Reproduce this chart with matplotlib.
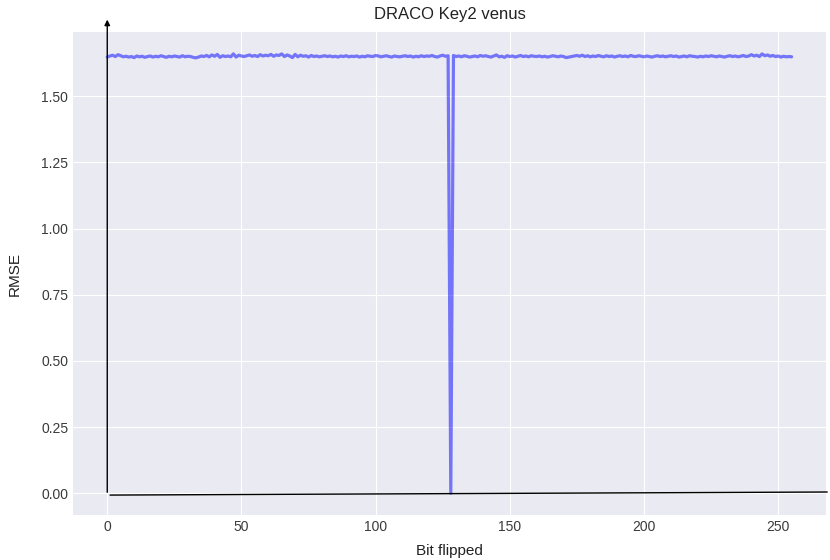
import matplotlib
matplotlib.use("Agg")
import matplotlib.pyplot as plt

# RMSE after flipping each bit of the key (bit 128 gives an exact decode)
rmse = [
    1.648, 1.652, 1.655, 1.650, 1.657, 1.653, 1.649, 1.651, 1.648, 1.650, 1.646, 1.652, 1.649, 1.651, 1.647, 1.650,
    1.652, 1.648, 1.651, 1.649, 1.653, 1.650, 1.647, 1.651, 1.649, 1.652, 1.650, 1.648, 1.653, 1.649, 1.651, 1.650,
    1.647, 1.645, 1.648, 1.652, 1.650, 1.654, 1.649, 1.656, 1.651, 1.658, 1.647, 1.653, 1.650, 1.652, 1.649, 1.660,
    1.648, 1.655, 1.652, 1.650, 1.653, 1.656, 1.651, 1.654, 1.650, 1.657, 1.652, 1.655, 1.653, 1.658, 1.651, 1.656,
    1.654, 1.660, 1.650, 1.656, 1.652, 1.646, 1.658, 1.649, 1.655, 1.651, 1.653, 1.648, 1.654, 1.650, 1.652, 1.649,
    1.651, 1.653, 1.650, 1.652, 1.649, 1.651, 1.648, 1.652, 1.650, 1.653, 1.649, 1.651, 1.650, 1.652, 1.648, 1.651,
    1.649, 1.653, 1.651, 1.650, 1.654, 1.652, 1.649, 1.651, 1.653, 1.650, 1.648, 1.652, 1.650, 1.649, 1.651, 1.653,
    1.650, 1.652, 1.648, 1.651, 1.649, 1.653, 1.650, 1.652, 1.651, 1.654, 1.650, 1.648, 1.652, 1.655, 1.651, 1.653,
    0.000, 1.654, 1.650, 1.652, 1.649, 1.653, 1.651, 1.648, 1.650, 1.652, 1.649, 1.654, 1.651, 1.653, 1.650, 1.648,
    1.652, 1.656, 1.649, 1.651, 1.647, 1.653, 1.650, 1.652, 1.648, 1.651, 1.654, 1.650, 1.652, 1.649, 1.653, 1.651,
    1.650, 1.652, 1.649, 1.651, 1.648, 1.650, 1.653, 1.651, 1.649, 1.652, 1.650, 1.646, 1.648, 1.650, 1.652, 1.654,
    1.651, 1.655, 1.650, 1.653, 1.649, 1.652, 1.650, 1.654, 1.651, 1.649, 1.653, 1.650, 1.652, 1.648, 1.651, 1.653,
    1.650, 1.652, 1.649, 1.654, 1.651, 1.650, 1.653, 1.651, 1.649, 1.652, 1.650, 1.648, 1.651, 1.653, 1.650, 1.652,
    1.649, 1.651, 1.653, 1.650, 1.652, 1.648, 1.650, 1.652, 1.649, 1.653, 1.651, 1.650, 1.648, 1.651, 1.649, 1.652,
    1.650, 1.653, 1.651, 1.649, 1.652, 1.650, 1.648, 1.651, 1.653, 1.650, 1.652, 1.649, 1.651, 1.654, 1.650, 1.652,
    1.657, 1.652, 1.655, 1.650, 1.660, 1.653, 1.656, 1.651, 1.654, 1.650, 1.652, 1.648, 1.651, 1.649, 1.650, 1.649,
]
bits = list(range(len(rmse)))
xticks = [0, 50, 100, 150, 200, 250]

plt.style.use("seaborn-v0_8-darkgrid")
plt.rcParams["font.family"] = ["Liberation Sans", "DejaVu Sans"]

fig, ax = plt.subplots(figsize=(8.3, 5.6), dpi=100)
fig.subplots_adjust(left=0.088, right=0.995, top=0.943, bottom=0.080)

ax.plot(bits, rmse, color="blue", alpha=0.5, linewidth=2.3)
ax.set_xticks(xticks)
ax.tick_params(labelsize=10, colors="#3a3a3a")
ax.set_title("DRACO Key2 venus", fontsize=12, color="#222222", pad=9)
ax.set_xlabel("Bit flipped", fontsize=11, color="#222222", labelpad=7)
ax.set_ylabel("RMSE", fontsize=11, color="#222222", labelpad=14)

# hand drawn axes through the origin
ax.annotate("", xy=(0, 1.80), xytext=(0, -0.007), xycoords="data",
            arrowprops=dict(arrowstyle="-|>", color="black", lw=1, mutation_scale=8),
            annotation_clip=False)
ax.annotate("", xy=(1.0, 1 - 492 / 560), xycoords="figure fraction",
            xytext=(0, -0.007), textcoords="data",
            arrowprops=dict(arrowstyle="-", color="black", lw=1),
            annotation_clip=False)

plt.savefig("out.png", dpi=100)
